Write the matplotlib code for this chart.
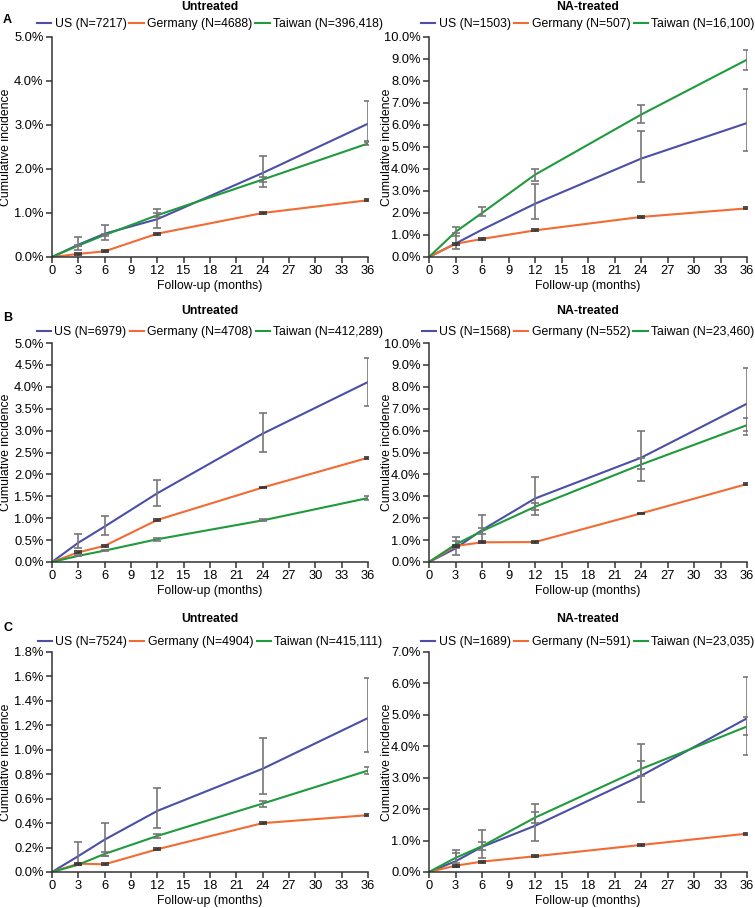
import numpy as np
import matplotlib
matplotlib.use("Agg")
import matplotlib.pyplot as plt
from matplotlib.ticker import FuncFormatter, MultipleLocator

plt.rcParams['font.family'] = ['Liberation Sans', 'DejaVu Sans']

# meses de seguimiento
months = [0, 3, 6, 12, 24, 36]

# A - sin tratamiento
a_un_us = [0, 0.28, 0.53, 0.86, 1.91, 3.03]
a_un_us_lo = [0.17, 0.38, 0.65, 1.58, 2.63]
a_un_us_hi = [0.45, 0.73, 1.09, 2.30, 3.54]
a_un_de = [0, 0.07, 0.13, 0.53, 1.00, 1.29]
a_un_tw = [0, 0.26, 0.50, 0.95, 1.76, 2.58]
a_un_tw_lo = [0.24, 0.47, 0.91, 1.70, 2.54]
a_un_tw_hi = [0.28, 0.53, 0.99, 1.81, 2.62]

# A - tratados con NA
a_na_us = [0, 0.61, 1.24, 2.42, 4.47, 6.09]
a_na_us_lo = [0.35, np.nan, 1.71, 3.39, 4.80]
a_na_us_hi = [1.10, np.nan, 3.32, 5.71, 7.64]
a_na_de = [0, 0.60, 0.82, 1.21, 1.82, 2.21]
a_na_tw = [0, 1.14, 2.00, 3.74, 6.47, 8.97]
a_na_tw_lo = [0.95, 1.86, 3.45, 6.09, 8.52]
a_na_tw_hi = [1.38, 2.29, 4.02, 6.89, 9.39]

# B - sin tratamiento
b_un_us = [0, 0.44, 0.81, 1.57, 2.93, 4.11]
b_un_us_lo = [0.31, 0.61, 1.28, 2.51, 3.57]
b_un_us_hi = [0.63, 1.05, 1.88, 3.40, 4.66]
b_un_de = [0, 0.22, 0.37, 0.96, 1.70, 2.38]
b_un_tw = [0, 0.14, 0.26, 0.52, 0.95, 1.46]
b_un_tw_lo = [0.13, 0.24, 0.49, 0.93, 1.41]
b_un_tw_hi = [0.15, 0.28, 0.54, 0.98, 1.50]

# B - tratados con NA
b_na_us = [0, 0.62, 1.46, 2.90, 4.76, 7.23]
b_na_us_lo = [0.32, 0.93, 2.14, 3.69, 5.80]
b_na_us_hi = [1.15, 2.14, 3.89, 5.99, 8.88]
b_na_de = [0, 0.73, 0.90, 0.91, 2.22, 3.56]
b_na_tw = [0, 0.80, 1.41, 2.52, 4.45, 6.25]
b_na_tw_lo = [0.65, 1.30, 2.37, 4.23, 5.97]
b_na_tw_hi = [0.95, 1.55, 2.70, 4.73, 6.58]

# C - sin tratamiento
c_un_us = [0, 0.13, 0.265, 0.50, 0.845, 1.26]
c_un_us_lo = [0.055, 0.135, 0.356, 0.64, 0.98]
c_un_us_hi = [0.246, 0.405, 0.689, 1.10, 1.59]
c_un_de = [0, 0.068, 0.063, 0.186, 0.40, 0.465]
c_un_tw = [0, 0.06, 0.148, 0.295, 0.56, 0.83]
c_un_tw_lo = [0.055, 0.135, 0.28, 0.535, 0.80]
c_un_tw_hi = [0.065, 0.164, 0.31, 0.58, 0.86]

# C - tratados con NA
c_na_us = [0, 0.34, 0.80, 1.47, 3.06, 4.89]
c_na_us_lo = [0.16, 0.46, 0.98, 2.23, 3.71]
c_na_us_hi = [0.69, 1.33, 2.17, 4.07, 6.21]
c_na_de = [0, 0.20, 0.33, 0.50, 0.86, 1.22]
c_na_tw = [0, 0.45, 0.82, 1.73, 3.28, 4.63]
c_na_tw_lo = [0.30, 0.70, 1.55, 3.05, 4.35]
c_na_tw_hi = [0.60, 0.96, 1.92, 3.54, 4.93]

# tamaños de muestra (leyendas)
n_labels = {
    ('A', 'un'): ['7217', '4688', '396,418'],
    ('A', 'na'): ['1503', '507', '16,100'],
    ('B', 'un'): ['6979', '4708', '412,289'],
    ('B', 'na'): ['1568', '552', '23,460'],
    ('C', 'un'): ['7524', '4904', '415,111'],
    ('C', 'na'): ['1689', '591', '23,035'],
}

panels = [
    ('A', 'un', a_un_us, a_un_us_lo, a_un_us_hi, a_un_de, a_un_tw, a_un_tw_lo, a_un_tw_hi, 5.0, 1.0),
    ('A', 'na', a_na_us, a_na_us_lo, a_na_us_hi, a_na_de, a_na_tw, a_na_tw_lo, a_na_tw_hi, 10.0, 1.0),
    ('B', 'un', b_un_us, b_un_us_lo, b_un_us_hi, b_un_de, b_un_tw, b_un_tw_lo, b_un_tw_hi, 5.0, 0.5),
    ('B', 'na', b_na_us, b_na_us_lo, b_na_us_hi, b_na_de, b_na_tw, b_na_tw_lo, b_na_tw_hi, 10.0, 1.0),
    ('C', 'un', c_un_us, c_un_us_lo, c_un_us_hi, c_un_de, c_un_tw, c_un_tw_lo, c_un_tw_hi, 1.8, 0.2),
    ('C', 'na', c_na_us, c_na_us_lo, c_na_us_hi, c_na_de, c_na_tw, c_na_tw_lo, c_na_tw_hi, 7.0, 1.0),
]

col_us = '#4b4fa5'
col_de = '#f26b33'
col_tw = '#1f9a3c'
col_err = '#777777'

W, H = 755, 908
fig = plt.figure(figsize=(W / 100, H / 100), dpi=100)

# posiciones en pixeles: (izq, der) por columna, (arriba, abajo) por fila
cols = {'un': (52, 368), 'na': (429, 747)}
rows = {'A': (37, 257), 'B': (343, 562), 'C': (652, 872)}
# centro vertical de letra, titulo y leyenda por fila
letter_y = {'A': 20, 'B': 318, 'C': 628}
title_y = {'A': 7, 'B': 311, 'C': 619}
legend_y = {'A': 24, 'B': 332, 'C': 642}

for letter, kind, us, us_lo, us_hi, de, tw, tw_lo, tw_hi, ymax, ystep in panels:
    x0, x1 = cols[kind]
    y0, y1 = rows[letter]
    ax = fig.add_axes([x0 / W, 1 - y1 / H, (x1 - x0) / W, (y1 - y0) / H])
    n = n_labels[(letter, kind)]

    ax.plot(months, us, color=col_us, lw=1.5, label=f'US (N={n[0]})', zorder=2)
    ax.plot(months, de, color=col_de, lw=1.5, label=f'Germany (N={n[1]})', zorder=2)
    ax.plot(months, tw, color=col_tw, lw=1.5, label=f'Taiwan (N={n[2]})', zorder=2)

    # barras de error (solo meses > 0)
    m = np.array(months[1:])
    for vals, lo, hi in [(us, us_lo, us_hi), (tw, tw_lo, tw_hi)]:
        v = np.array(vals[1:])
        yerr = [v - np.array(lo), np.array(hi) - v]
        eb = ax.errorbar(m, v, yerr=yerr, fmt='none', ecolor=col_err, elinewidth=1.2,
                         capsize=3, capthick=1.2, zorder=3)
        for cap in eb[1]:
            cap.set_color('#444444')
    ax.errorbar(m, de[1:], yerr=0.004 * ymax, fmt='none', ecolor='#333333',
                elinewidth=1, capsize=3, capthick=1.2, zorder=3)

    ax.set_xlim(0, 36)
    ax.set_ylim(0, ymax)
    ax.set_xticks(range(0, 37, 3))
    ax.yaxis.set_major_locator(MultipleLocator(ystep))
    ax.yaxis.set_major_formatter(FuncFormatter(lambda v, p: f'{v:.1f}%'))
    for s in ['top', 'right']:
        ax.spines[s].set_visible(False)
    for s in ['left', 'bottom']:
        ax.spines[s].set_linewidth(1.1)
        ax.spines[s].set_color('#333333')
    ax.tick_params(labelsize=9.3, length=4, width=1.1, color='#333333', pad=2)
    ax.set_xlabel('Follow-up (months)', fontsize=8.8)
    ax.set_ylabel('Cumulative incidence', fontsize=8.8)
    hpx = y1 - y0
    ax.xaxis.set_label_coords(0.5, -23 / hpx)
    ylab_x = 12 if kind == 'un' else 393
    ax.yaxis.set_label_coords((ylab_x - x0) / (x1 - x0), 0.5)

    title = 'Untreated' if kind == 'un' else 'NA-treated'
    ax.text(0.5, (y0 - title_y[letter]) / hpx + 1, title, transform=ax.transAxes,
            ha='center', va='center', fontsize=8.8, fontweight='bold')
    ax.legend(loc='center', bbox_to_anchor=(0.5, 1 + (y0 - legend_y[letter]) / hpx),
              ncol=3, frameon=False, fontsize=8.8, handlelength=1.15,
              handletextpad=0.3, columnspacing=0.25, borderaxespad=0, borderpad=0)

    if kind == 'un':
        fig.text(3 / W, 1 - letter_y[letter] / H, letter, fontsize=9, fontweight='bold',
                 ha='left', va='center')

fig.savefig('out.png', dpi=100)
